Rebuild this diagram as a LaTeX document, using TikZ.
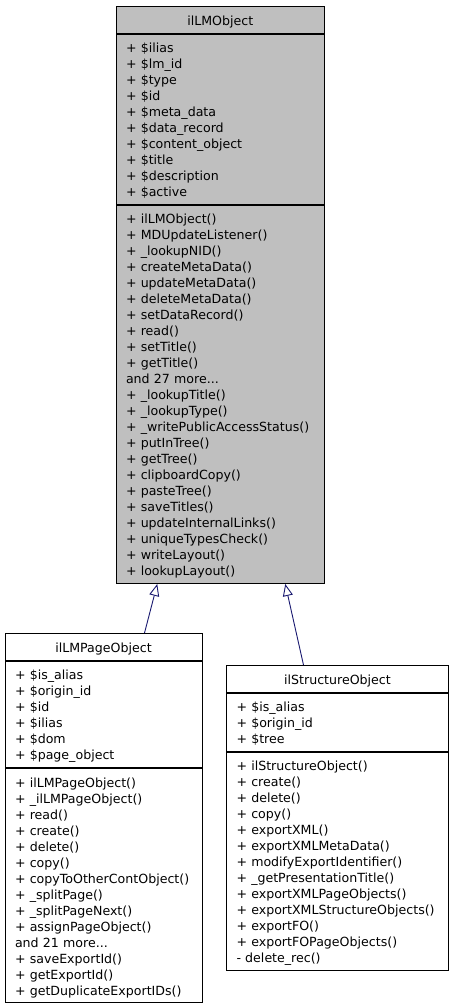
\documentclass[tikz,border=0pt]{standalone}
\usepackage{fontspec}
\setmainfont{DejaVu Sans}
\usetikzlibrary{arrows.meta}
\definecolor{edgeblue}{HTML}{191970}
\definecolor{hlgray}{HTML}{BFBFBF}
\newcommand{\mystrut}{\rule[-2.5pt]{0pt}{15.8pt}}
\newcommand{\clsfont}{\fontsize{12.6pt}{16pt}\selectfont\lineskiplimit=-20pt\lineskip=0pt}
\tikzset{
  compart/.style={draw=black, line width=1pt, anchor=north west, inner xsep=10pt,
    inner ysep=5pt, align=left, font=\clsfont},
  titlebox/.style={compart, align=center, minimum height=27pt, inner ysep=5.5pt},
  hl/.style={fill=hlgray},
  plain/.style={fill=white},
  inherit/.style={draw=edgeblue, line width=0.9pt, -{Triangle[open, length=12pt, width=10pt, fill=white]}}
}
\begin{document}
\begin{tikzpicture}[x=1pt, y=-1pt]
\useasboundingbox (0,0) rectangle (453,1008);
% ilLMObject
\node[titlebox, hl, text width=188.5pt] (lmtitle) at (115.5,6) {\mystrut ilLMObject};
\node[compart, hl, text width=188.5pt, minimum height=170pt] (lmattr) at (lmtitle.south west) {%
\mystrut + \$ilias\\
\mystrut + \$lm\_id\\
\mystrut + \$type\\
\mystrut + \$id\\
\mystrut + \$meta\_data\\
\mystrut + \$data\_record\\
\mystrut + \$content\_object\\
\mystrut + \$title\\
\mystrut + \$description\\
\mystrut + \$active};
\node[compart, hl, text width=188.5pt, minimum height=378pt] (lmmeth) at (lmattr.south west) {%
\mystrut + ilLMObject()\\
\mystrut + MDUpdateListener()\\
\mystrut + \_lookupNID()\\
\mystrut + createMetaData()\\
\mystrut + updateMetaData()\\
\mystrut + deleteMetaData()\\
\mystrut + setDataRecord()\\
\mystrut + read()\\
\mystrut + setTitle()\\
\mystrut + getTitle()\\
\mystrut and 27 more...\\
\mystrut + \_lookupTitle()\\
\mystrut + \_lookupType()\\
\mystrut + \_writePublicAccessStatus()\\
\mystrut + putInTree()\\
\mystrut + getTree()\\
\mystrut + clipboardCopy()\\
\mystrut + pasteTree()\\
\mystrut + saveTitles()\\
\mystrut + updateInternalLinks()\\
\mystrut + uniqueTypesCheck()\\
\mystrut + writeLayout()\\
\mystrut + lookupLayout()};
% ilLMPageObject
\node[titlebox, plain, text width=177pt] (pgtitle) at (4.5,633) {\mystrut ilLMPageObject};
\node[compart, plain, text width=177pt, minimum height=106pt] (pgattr) at (pgtitle.south west) {%
\mystrut + \$is\_alias\\
\mystrut + \$origin\_id\\
\mystrut + \$id\\
\mystrut + \$ilias\\
\mystrut + \$dom\\
\mystrut + \$page\_object};
\node[compart, plain, text width=177pt, minimum height=234pt] (pgmeth) at (pgattr.south west) {%
\mystrut + ilLMPageObject()\\
\mystrut + \_ilLMPageObject()\\
\mystrut + read()\\
\mystrut + create()\\
\mystrut + delete()\\
\mystrut + copy()\\
\mystrut + copyToOtherContObject()\\
\mystrut + \_splitPage()\\
\mystrut + \_splitPageNext()\\
\mystrut + assignPageObject()\\
\mystrut and 21 more...\\
\mystrut + saveExportId()\\
\mystrut + getExportId()\\
\mystrut + getDuplicateExportIDs()};
% ilStructureObject
\node[titlebox, plain, text width=202pt] (sttitle) at (226,665) {\mystrut ilStructureObject};
\node[compart, plain, text width=202pt, minimum height=58pt] (stattr) at (sttitle.south west) {%
\mystrut + \$is\_alias\\
\mystrut + \$origin\_id\\
\mystrut + \$tree};
\node[compart, plain, text width=202pt, minimum height=218pt] (stmeth) at (stattr.south west) {%
\mystrut + ilStructureObject()\\
\mystrut + create()\\
\mystrut + delete()\\
\mystrut + copy()\\
\mystrut + exportXML()\\
\mystrut + exportXMLMetaData()\\
\mystrut + modifyExportIdentifier()\\
\mystrut + \_getPresentationTitle()\\
\mystrut + exportXMLPageObjects()\\
\mystrut + exportXMLStructureObjects()\\
\mystrut + exportFO()\\
\mystrut + exportFOPageObjects()\\
\mystrut - delete\_rec()};
% inheritance
\draw[inherit] ([xshift=41pt]pgtitle.north) -- ([xshift=-63pt]lmmeth.south);
\draw[inherit] ([xshift=-34pt]sttitle.north) -- ([xshift=65pt]lmmeth.south);
\end{tikzpicture}
\end{document}
